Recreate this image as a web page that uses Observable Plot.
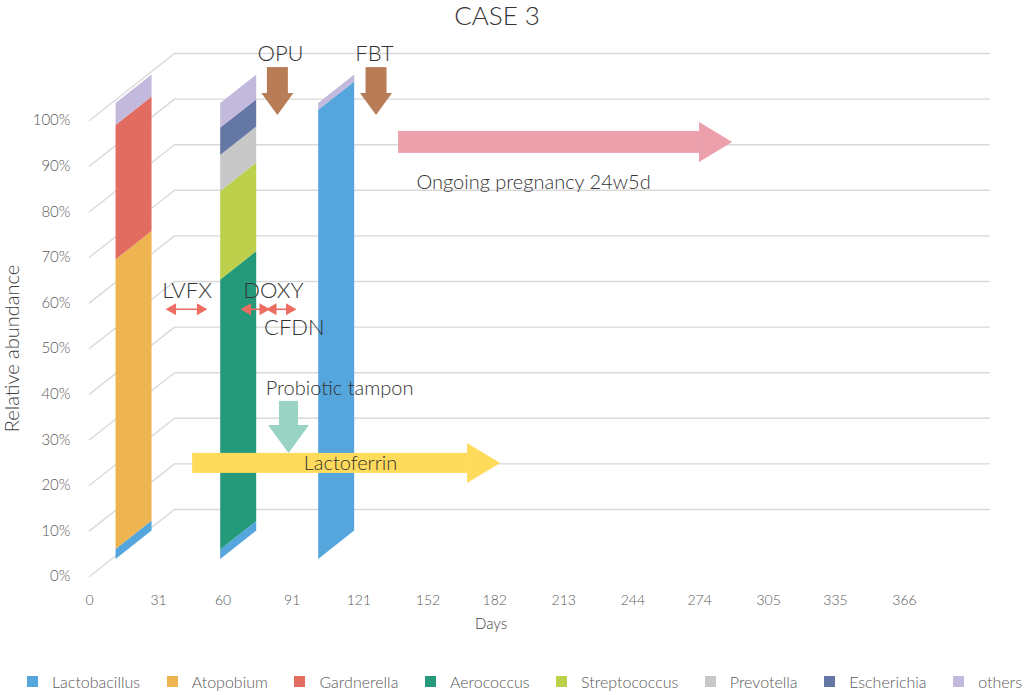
<!DOCTYPE html>
<html><head><meta charset="utf-8">
<script src="https://cdn.jsdelivr.net/npm/d3@7"></script>
<script src="https://cdn.jsdelivr.net/npm/@observablehq/plot@0.6"></script>
<style>
body{margin:0;background:#fff;font-family:Lato,"Open Sans",sans-serif;}
#title{height:30px;line-height:30px;text-align:center;font-size:26px;font-weight:300;color:#333;padding-right:30px;}
#chart svg{font-weight:300;}
#legend{display:flex;justify-content:space-between;padding:0 2px 0 27px;margin-top:8px;font-size:16px;color:#595959;font-weight:300;}
.item{display:flex;align-items:center;gap:14px;}
.sw{width:11px;height:11px;display:inline-block;}
</style></head><body>
<div id="title">CASE 3</div>
<div id="chart"></div>
<div id="legend"></div>
<script>
// ---------- data ----------
const taxa = ["Lactobacillus","Atopobium","Gardnerella","Aerococcus","Streptococcus","Prevotella","Escherichia","others"];
const sampleDays = [20, 67, 111];
const sample1 = [2.2, 63.5, 29.5, 0, 0, 0, 0, 4.8];
const sample2 = [2.1, 0, 0, 59.2, 19.4, 7.9, 6.0, 5.4];
const sample3 = [98.5, 0, 0, 0, 0, 0, 0, 1.5];
const yTicks = [0,10,20,30,40,50,60,70,80,90,100];
const xTicks = [0,31,60,91,121,152,182,213,244,274,305,335,366];

// annotations (day, level in %)
const procNames = ["OPU","FBT"];
const procDays = [84.6, 128.9];
const abxNames = ["LVFX","DOXY","CFDN"];
const abxStart = [35.5, 69.2, 80.6];
const abxEnd = [51.6, 79.7, 91.6];
const therapyNames = ["Ongoing pregnancy 24w5d","Lactoferrin"];
const therapyStart = [138.8, 46.3];
const therapyEnd = [288.8, 184.6];
const therapyLevel = [95.2, 24.8];
const probioticDay = 89.6;

// ---------- styles / layout ----------
const colors = ["#55A6DC","#EDB44F","#E36C61","#249A7B","#BDD04B","#C8C8C8","#6577A5","#C2B9DC"];
const W = 1024, H = 634;
const mL = 89, mR = 120, mT = 90, mB = 88;
const pxDay = (W - mL - mR) / 366;
const pxPct = (H - mT - mB) / 100;
const dX = v => v / pxDay, dY = v => v / pxPct; // px -> data units
const depthDays = dX(85), depthPct = dY(67);
const slope = depthPct / depthDays;
const barHalf = dX(18), barBase = dY(17);
const txt = "#333";

// gridlines
const grid = [];
for (const v of yTicks) {
  grid.push({v, x: 0, y: v});
  grid.push({v, x: depthDays, y: v + depthPct});
  grid.push({v, x: 366 + depthDays, y: v + depthPct});
}

// bars
const barRows = [];
[sample1, sample2, sample3].forEach((vals, i) => {
  let cum = 0;
  const left = sampleDays[i] - barHalf;
  vals.forEach((v, j) => {
    if (v <= 0) return;
    for (const xx of [left, left + 2 * barHalf]) {
      const lift = barBase + slope * (xx - left);
      barRows.push({key: i + "-" + j, taxon: taxa[j], x: xx, y1: lift + cum, y2: lift + cum + v});
    }
    cum += v;
  });
});

const marks = [];
marks.push(Plot.line(grid, {x: "x", y: "y", z: "v", stroke: "#D9D9D9", strokeWidth: 1.4}));
marks.push(Plot.areaY(barRows, {x: "x", y1: "y1", y2: "y2", z: "key", fill: "taxon", curve: "linear"}));

// horizontal block arrows
const hColors = ["#EBA0AC", "#FFDB5C"];
const hShaft = [11, 10];
therapyNames.forEach((n, i) => {
  const lvl = therapyLevel[i], tip = therapyEnd[i], hl = dX(33), hh = dY(20), sh = dY(hShaft[i]);
  marks.push(Plot.rect([n], {x1: therapyStart[i], x2: tip - hl, y1: lvl - sh, y2: lvl + sh, fill: hColors[i]}));
  marks.push(Plot.areaY([{x: tip - hl, a: lvl - hh, b: lvl + hh}, {x: tip, a: lvl, b: lvl}],
    {x: "x", y1: "a", y2: "b", fill: hColors[i], curve: "linear"}));
});

// vertical block arrows
function vArrow(day, top, headBase, tip, shaftHalfPx, headHalfPx, color) {
  marks.push(Plot.rect([0], {x1: day - dX(shaftHalfPx), x2: day + dX(shaftHalfPx), y1: headBase, y2: top, fill: color}));
  marks.push(Plot.areaX([{y: headBase, a: day - dX(headHalfPx), b: day + dX(headHalfPx)}, {y: tip, a: day, b: day}],
    {y: "y", x1: "a", x2: "b", fill: color, curve: "linear"}));
}
procDays.forEach(d => vArrow(d, 111.6, 105.9, 101.1, 10.5, 16, "#B87C57"));
vArrow(probioticDay, 38.4, 33.1, 27.0, 9.5, 20.5, "#98D3C4");

// antibiotic double arrows
const abx = abxNames.map((n, i) => ({n, s: abxStart[i], e: abxEnd[i], lvl: 58.6}));
marks.push(Plot.link(abx, {x1: "s", x2: "e", y1: "lvl", y2: "lvl", stroke: "#EC6D61", strokeWidth: 1.6}));
marks.push(Plot.dot(abx, {x: "e", y: "lvl", symbol: "triangle", rotate: 90, r: 4.5, fill: "#EC6D61", dx: -4}));
marks.push(Plot.dot(abx, {x: "s", y: "lvl", symbol: "triangle", rotate: -90, r: 4.5, fill: "#EC6D61", dx: 4}));

// texts
const bigLabels = [
  {t: procNames[0], x: 85.8, y: 114.7},
  {t: procNames[1], x: 128.0, y: 114.7},
  {t: abxNames[0], x: 43.8, y: 62.7},
  {t: abxNames[1], x: 82.6, y: 62.7},
  {t: abxNames[2], x: 92.0, y: 54.4}
];
marks.push(Plot.text(bigLabels, {x: "x", y: "y", text: "t", fontSize: 22, fill: txt}));
marks.push(Plot.text([therapyNames[0]], {x: 146.8, y: 86.4, textAnchor: "start", fontSize: 20, fill: txt}));
marks.push(Plot.text([therapyNames[1]], {x: 117.2, y: 24.8, fontSize: 20, fill: txt}));
marks.push(Plot.text(["Probiotic tampon"], {x: 112.3, y: 41.2, fontSize: 20, fill: txt}));

// axes
marks.push(Plot.axisY(yTicks, {tickSize: 0, tickPadding: 19, tickFormat: d => d + "%", fontSize: 15, label: null}));
marks.push(Plot.axisX(xTicks, {tickSize: 0, tickPadding: 19, fontSize: 14, label: null}));
marks.push(Plot.text(["Days"], {frameAnchor: "bottom", dy: 52, dx: -6, fontSize: 15, fill: "#404040"}));
marks.push(Plot.text(["Relative abundance"], {frameAnchor: "left", textAnchor: "middle", dx: -77, rotate: -90, fontSize: 20, fill: "#404040"}));

const chart = Plot.plot({
  width: W, height: H,
  marginLeft: mL, marginRight: mR, marginTop: mT, marginBottom: mB,
  x: {domain: [0, 366]},
  y: {domain: [0, 100]},
  color: {domain: taxa, range: colors},
  style: {fontFamily: "Lato, 'Open Sans', sans-serif", color: "#595959", background: "#fff", overflow: "visible"},
  marks
});
document.getElementById("chart").appendChild(chart);

// legend
const lg = document.getElementById("legend");
taxa.forEach((t, i) => {
  const it = document.createElement("div");
  it.className = "item";
  it.innerHTML = `<span class="sw" style="background:${colors[i]}"></span><span>${t}</span>`;
  lg.appendChild(it);
});
</script>
</body></html>
